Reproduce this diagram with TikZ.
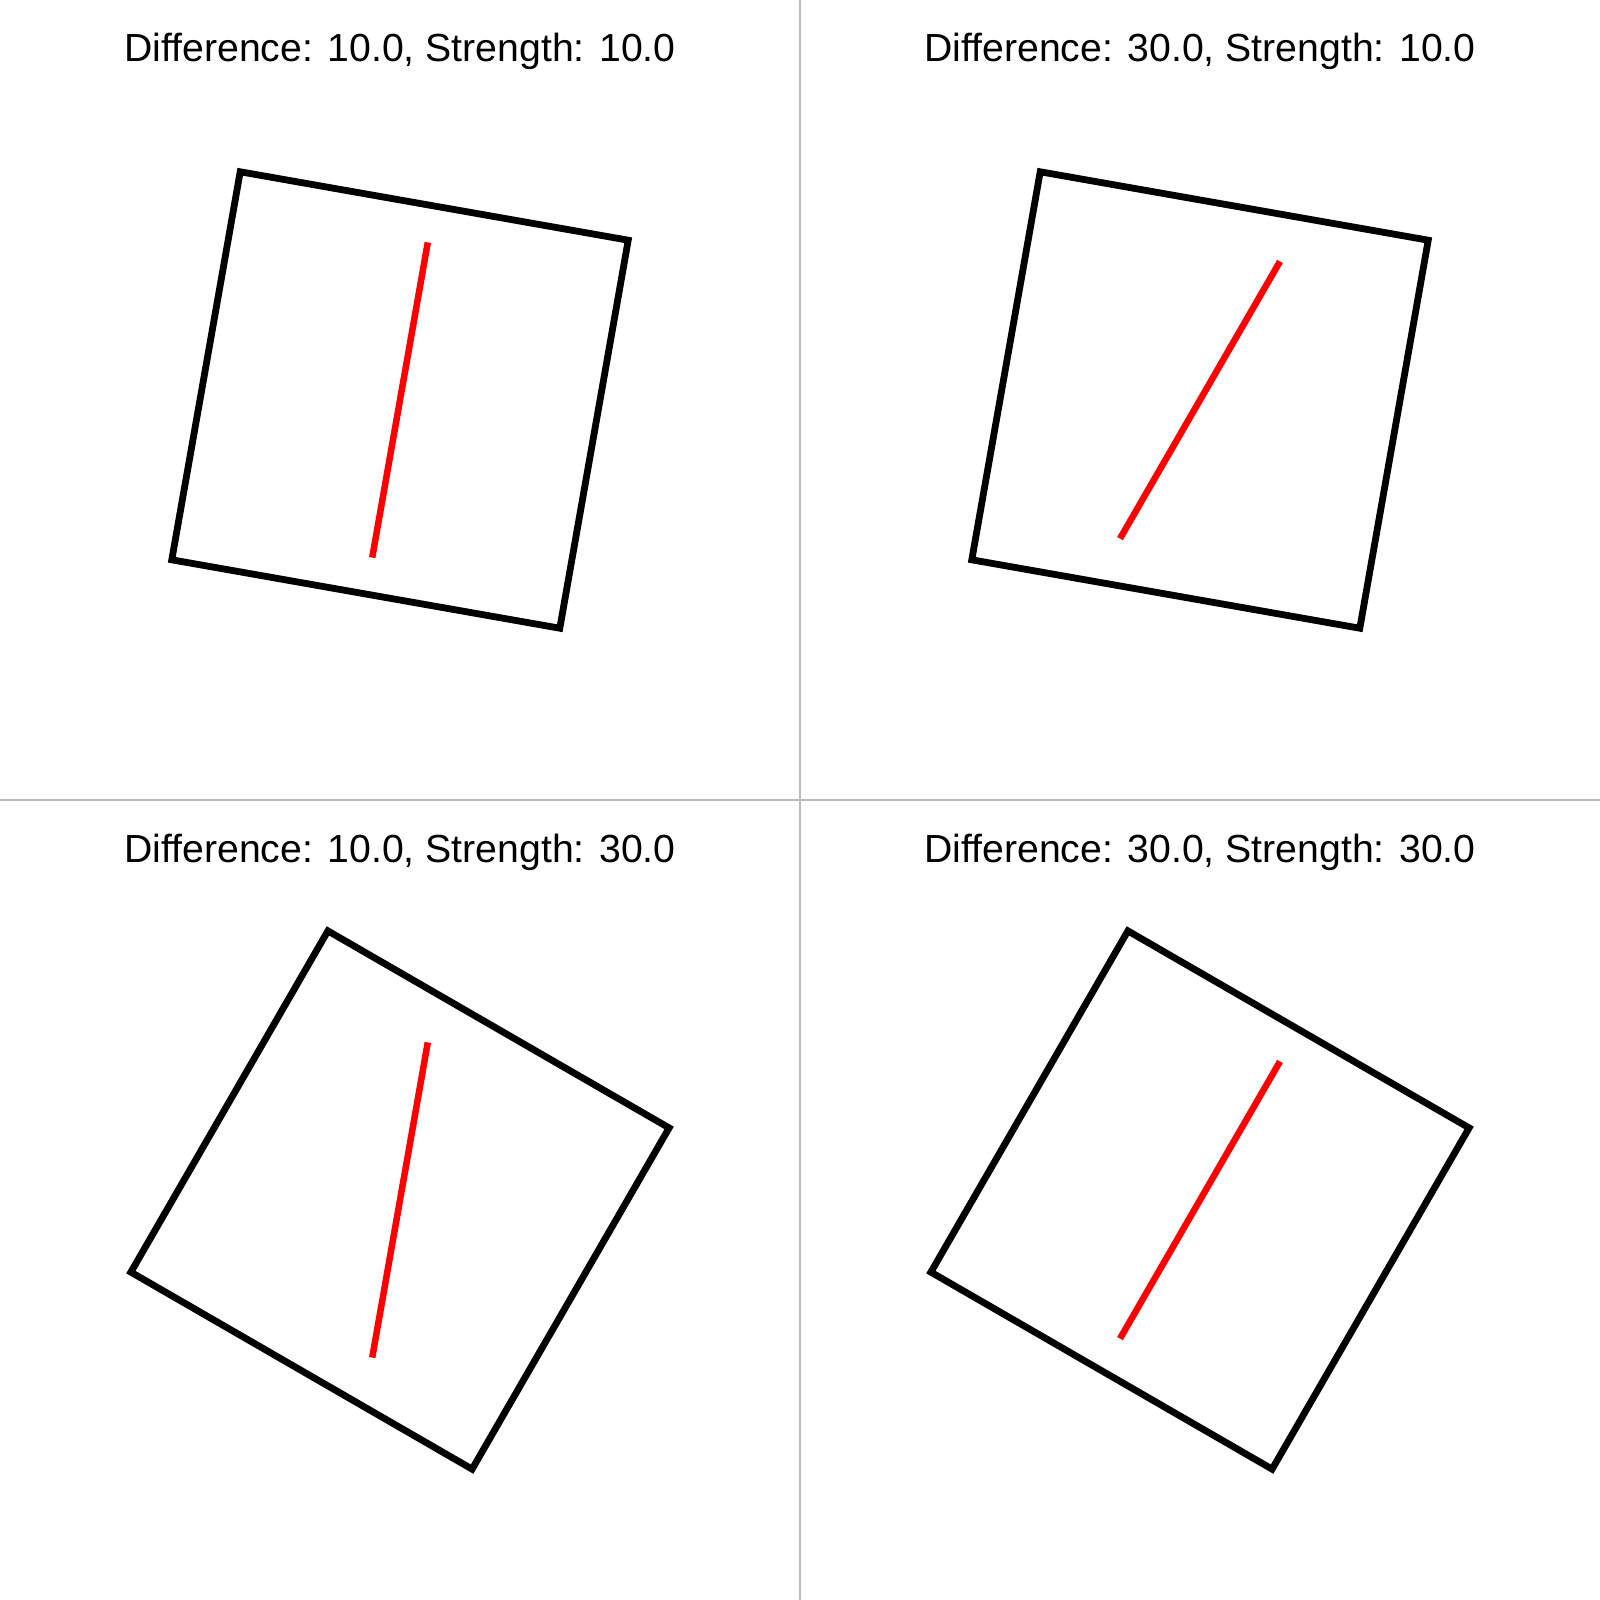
\documentclass[tikz,border=0pt]{standalone}
\usepackage{fontspec}
\setmainfont{Liberation Sans}
\tikzset{
  frame/.style={draw=black, line width=6.8pt, line join=miter},
  needle/.style={draw=red, line width=6.5pt},
  divider/.style={draw=black!27, line width=1.5pt},
  title/.style={anchor=base, inner sep=0pt, font=\fontsize{39.2}{47}\selectfont}
}
\begin{document}
\begin{tikzpicture}[x=1pt,y=-1pt]
\useasboundingbox[fill=white] (0,0) rectangle (1600,1600);
\draw[divider] (800,0) -- (800,1600);
\draw[divider] (0,800) -- (1600,800);
% panels: center x, center y, strength (square angle), difference (line angle)
\foreach \cx/\cy/\st/\df/\n in {400/400/10/10/a, 1200/400/10/30/b, 400/1200/30/10/c, 1200/1200/30/30/d}{
  \node[title] (t\n) at (\cx,\cy-338) {Difference: \df.0, Strength: \st.0};
  \begin{scope}[shift={(\cx,\cy)}, rotate=-\st]
    \draw[frame] (-197,-197) -- (197,-197) -- (197,197) -- (-197,197) -- cycle;
  \end{scope}
  \begin{scope}[shift={(\cx,\cy)}, rotate=-\df]
    \coordinate (top\n) at (0,-160);
    \coordinate (bot\n) at (0,160);
    \draw[needle] (top\n) -- (bot\n);
  \end{scope}
}
\end{tikzpicture}
\end{document}
